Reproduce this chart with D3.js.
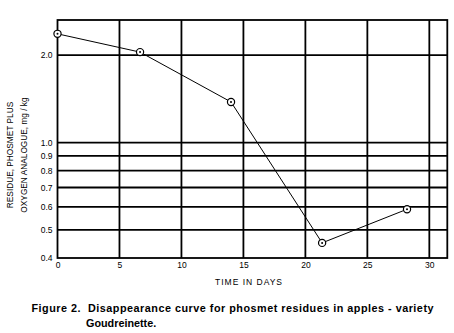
<!DOCTYPE html>
<html>
<head>
<meta charset="utf-8">
<script src="https://cdn.jsdelivr.net/npm/d3@7"></script>
<style>
  html, body { margin: 0; padding: 0; background: #fff; }
  svg { display: block; }
  text { font-family: "Liberation Sans", Arial, sans-serif; fill: #000; }
</style>
</head>
<body>
<svg id="chart" width="454" height="333"></svg>
<script>
// Data
const days = [0, 6.66, 14, 21.35, 28.2];
const residues = [2.37, 2.05, 1.38, 0.451, 0.589];
const xTicks = [0, 5, 10, 15, 20, 25, 30];
const yTicks = [2.0, 1.0, 0.9, 0.8, 0.7, 0.6, 0.5, 0.4];
const yTitleLines = ["RESIDUE, PHOSMET PLUS", "OXYGEN ANALOGUE, mg / kg"];
const xTitle = "TIME IN DAYS";
const captionLine1 = "Figure 2.  Disappearance curve for phosmet residues in apples - variety";
const captionLine2 = "Goudreinette.";

(function () {
const svg = d3.select("#chart");
const pLeft = 57.5, pRight = 447.3, pTop = 20, pBottom = 258;

const x = d3.scaleLinear().domain([0, 31.45]).range([pLeft, pRight]);
const y = d3.scaleLog().domain([0.4, 2.645]).range([pBottom, pTop]);

// Gridlines
const g = svg.append("g");
g.selectAll("line.v").data(xTicks.filter(d => d > 0)).join("line")
  .attr("x1", d => x(d)).attr("x2", d => x(d))
  .attr("y1", pTop).attr("y2", pBottom)
  .attr("stroke", "#000").attr("stroke-width", 1.8);
g.selectAll("line.h").data(yTicks.filter(d => d > 0.4)).join("line")
  .attr("x1", pLeft).attr("x2", pRight)
  .attr("y1", d => y(d)).attr("y2", d => y(d))
  .attr("stroke", "#000").attr("stroke-width", 1.8);
// Frame
g.append("rect").attr("x", pLeft).attr("y", pTop)
  .attr("width", pRight - pLeft).attr("height", pBottom - pTop)
  .attr("fill", "none").attr("stroke", "#000").attr("stroke-width", 1.8);

// Axes (labels only)
const xAxis = d3.axisBottom(x).tickValues(xTicks).tickSize(0).tickPadding(4).tickFormat(d3.format("d"));
svg.append("g").attr("transform", `translate(0,${pBottom})`).call(xAxis)
  .call(s => s.select(".domain").remove())
  .selectAll("text").attr("font-size", 8.5).attr("font-family", "Liberation Sans, Arial, sans-serif");

const yAxis = d3.axisLeft(y).tickValues(yTicks).tickSize(0).tickPadding(5).tickFormat(d3.format(".1f"));
svg.append("g").attr("transform", `translate(${pLeft},0)`).call(yAxis)
  .call(s => s.select(".domain").remove())
  .selectAll("text").attr("font-size", 8.5).attr("font-family", "Liberation Sans, Arial, sans-serif");

// Data line
const pts = days.map((d, i) => [d, residues[i]]);
svg.append("path").datum(pts)
  .attr("d", d3.line().x(d => x(d[0])).y(d => y(d[1])))
  .attr("fill", "none").attr("stroke", "#000").attr("stroke-width", 1);

// Markers
const m = svg.selectAll("g.mk").data(pts).join("g")
  .attr("transform", d => `translate(${x(d[0])},${y(d[1])})`);
m.append("circle").attr("r", 3.6).attr("fill", "#fff").attr("stroke", "#000").attr("stroke-width", 1.2);
m.append("circle").attr("r", 1).attr("fill", "#000");

// Axis titles
svg.append("text").attr("x", 215).attr("y", 284.5)
  .attr("font-size", 8.5).attr("textLength", 67).attr("lengthAdjust", "spacing").text(xTitle);
svg.append("g").attr("transform", "translate(0,155) rotate(-90)")
  .selectAll("text").data(yTitleLines).join("text")
  .attr("x", 0).attr("y", (d, i) => 13.3 + i * 13.4)
  .attr("text-anchor", "middle").attr("font-size", 8.3).text(d => d);

// Caption
svg.append("text").attr("x", 31.5).attr("y", 311.5).attr("font-size", 10.8).attr("font-weight", "bold")
  .attr("textLength", 402).attr("lengthAdjust", "spacing")
  .style("white-space", "pre").text(captionLine1);
svg.append("text").attr("x", 86).attr("y", 327).attr("font-size", 10.8).attr("font-weight", "bold")
  .text(captionLine2);
})();
</script>
</body>
</html>
